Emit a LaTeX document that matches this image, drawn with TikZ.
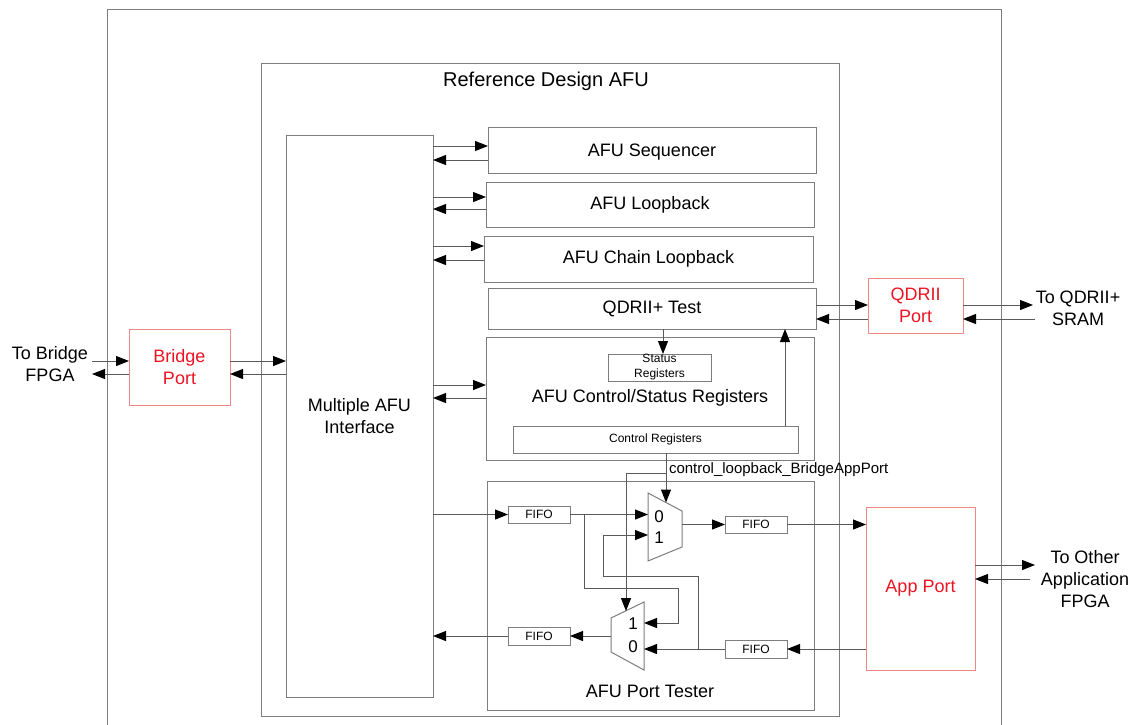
\documentclass[tikz,border=0pt]{standalone}
\usepackage{fontspec}
\setmainfont{Liberation Sans}
\usetikzlibrary{arrows.meta}
\definecolor{boxgray}{RGB}{125,125,125}
\definecolor{wiregray}{RGB}{90,90,90}
\definecolor{portred}{RGB}{235,20,35}
\definecolor{portedge}{RGB}{240,135,135}

\begin{document}
\begin{tikzpicture}[x=1pt,y=-1pt,
  every node/.style={inner sep=0pt, outer sep=0pt},
  block/.style={draw=boxgray, line width=1pt, fill=white,
    font=\fontsize{18}{22}\selectfont, align=center},
  port/.style={draw=portedge, line width=1pt, fill=white,
    font=\fontsize{18}{22}\selectfont, text=portred, align=center},
  reg/.style={draw=boxgray, line width=1pt, fill=white,
    font=\fontsize{12}{15}\selectfont, align=center},
  lbl/.style={font=\fontsize{18}{22}\selectfont, align=center},
  sel/.style={font=\fontsize{17}{20}\selectfont},
  muxshape/.style={draw=boxgray, line width=1pt, fill=white},
  wire/.style={draw=wiregray, line width=1pt},
  arr/.style={wire, -{Triangle[length=13pt,width=10pt,color=black]}},
]
\useasboundingbox (0,0) rectangle (1137,724);

% enclosing frames
\node[block, minimum width=894pt, minimum height=740pt] (board) at (554,379) {};
\node[block, minimum width=578pt, minimum height=653pt] (afu) at (550,389.5) {};
\node[lbl, font=\fontsize{20}{24}\selectfont] (afutitle) at (546,81) {Reference Design AFU};

% main blocks
\node[block, minimum width=147pt, minimum height=562pt] (mai) at (359.5,416) {Multiple AFU\\Interface};
\node[block, minimum width=328pt, minimum height=46pt, text depth=0pt] (seq) at (652,150) {AFU Sequencer};
\node[block, minimum width=328pt, minimum height=45pt] (loop) at (650,204.5) {AFU Loopback};
\node[block, minimum width=329pt, minimum height=46pt] (chain) at (648.5,259) {AFU Chain Loopback};
\node[block, minimum width=328pt, minimum height=41pt] (qtest) at (652,308.5) {QDRII+ Test};
\node[block, minimum width=328pt, minimum height=123pt] (csr) at (650,398.5) {};
\node[lbl] (csrlabel) at (650,398) {AFU Control/Status Registers};
\node[reg, minimum width=103pt, minimum height=27pt] (status) at (659.5,367.5) {Status\\Registers};
\node[reg, minimum width=285pt, minimum height=27pt] (ctrl) at (655.5,439.5) {Control Registers};
\node[block, minimum width=327pt, minimum height=229pt] (tester) at (650.5,595.5) {};
\node[lbl] (testerlabel) at (650,691) {AFU Port Tester};

% ports
\node[port, minimum width=101pt, minimum height=76pt] (bridge) at (179.5,367) {Bridge\\Port};
\node[port, minimum width=95pt, minimum height=55pt] (qport) at (915.5,305.5) {QDRII\\Port};
\node[port, minimum width=109pt, minimum height=163pt] (app) at (920.5,588.5) {App Port};

% external labels
\node[lbl] (tobridge) at (50,364) {To Bridge\\FPGA};
\node[lbl] (toqdr) at (1078,308) {To QDRII+\\SRAM};
\node[lbl] (toapp) at (1085,579) {To Other\\Application\\FPGA};

% FIFOs inside the port tester
\node[reg, minimum width=62pt, minimum height=17pt] (fifoA) at (539,514.5) {FIFO};
\node[reg, minimum width=62pt, minimum height=17pt] (fifoB) at (756,524.5) {FIFO};
\node[reg, minimum width=62pt, minimum height=18pt] (fifoC) at (539,636) {FIFO};
\node[reg, minimum width=62pt, minimum height=18pt] (fifoD) at (756,649) {FIFO};

% multiplexers
\draw[muxshape] (648,493) -- (682,511) -- (682,547) -- (648,561) -- cycle;
\draw[muxshape] (611,618) -- (644,602) -- (644,670) -- (611,652) -- cycle;
\node[sel] (muxAzero) at (659,517) {0};
\node[sel] (muxAone) at (659,538) {1};
\node[sel] (muxBone) at (633,624) {1};
\node[sel] (muxBzero) at (633,647) {0};
\coordinate (muxAin0) at (648,514.5);
\coordinate (muxAin1) at (648,535);
\coordinate (muxAout) at (682,524.5);
\coordinate (muxAsel) at (666,502.5);
\coordinate (muxBin1) at (644,623);
\coordinate (muxBin0) at (644,649);
\coordinate (muxBout) at (611,636);
\coordinate (muxBsel) at (626,611);

% external connections
\coordinate (brin) at (92,361);
\coordinate (brout) at (92,374);
\coordinate (qin) at (1035,319);
\coordinate (qout) at (1033,305);
\coordinate (apin) at (1030,579);
\coordinate (apout) at (1035,565);
\draw[arr] (brin) -- (bridge.west |- brin);
\draw[arr] (bridge.west |- brout) -- (brout);
\draw[arr] (qport.east |- qout) -- (qout);
\draw[arr] (qin) -- (qport.east |- qin);
\draw[arr] (app.east |- apout) -- (apout);
\draw[arr] (apin) -- (app.east |- apin);

% bridge port to interface
\draw[arr] (bridge.east |- 0,361) -- (mai.west |- 0,361);
\draw[arr] (mai.west |- 0,374) -- (bridge.east |- 0,374);

% interface to the AFU blocks
\draw[arr] (mai.east |- 0,146) -- (seq.west |- 0,146);
\draw[arr] (seq.west |- 0,160) -- (mai.east |- 0,160);
\draw[arr] (mai.east |- 0,197) -- (loop.west |- 0,197);
\draw[arr] (loop.west |- 0,209) -- (mai.east |- 0,209);
\draw[arr] (mai.east |- 0,246) -- (chain.west |- 0,246);
\draw[arr] (chain.west |- 0,260) -- (mai.east |- 0,260);
\draw[arr] (mai.east |- 0,385) -- (csr.west |- 0,385);
\draw[arr] (csr.west |- 0,398) -- (mai.east |- 0,398);

% QDRII+ test wiring
\draw[arr] (qtest.east |- 0,305) -- (qport.west |- 0,305);
\draw[arr] (qport.west |- 0,319) -- (qtest.east |- 0,319);
\draw[arr] (qtest.south -| 663,0) -- (status.north -| 663,0);
\draw[arr] (ctrl.north -| 785,0) -- (qtest.south -| 785,0);

% loopback select from the control registers
\coordinate (selsplit) at (666,473);
\draw[arr] (ctrl.south -| muxAsel) -- (muxAsel);
\draw[arr] (selsplit) -| (muxBsel);
\node[font=\fontsize{15}{18}\selectfont, anchor=west] (sellabel) at (669,470) {control\_loopback\_BridgeAppPort};

% port tester data paths
\draw[arr] (mai.east |- fifoA) -- (fifoA.west);
\draw[arr] (fifoA.east) -- (muxAin0);
\draw[arr] (muxAout) -- (fifoB.west);
\draw[arr] (fifoB.east) -- (app.west |- fifoB);
\draw[arr] (app.west |- fifoD) -- (fifoD.east);
\draw[arr] (fifoD.west) -- (muxBin0);
\draw[arr] (muxBout) -- (fifoC.east);
\draw[arr] (fifoC.west) -- (mai.east |- fifoC);
\coordinate (tapA) at (584,514.5);
\coordinate (tapD) at (698,649);
\draw[arr] (tapA) |- (678,588) |- (muxBin1);
\draw[arr] (tapD) |- (603,576) |- (muxAin1);
\end{tikzpicture}
\end{document}
